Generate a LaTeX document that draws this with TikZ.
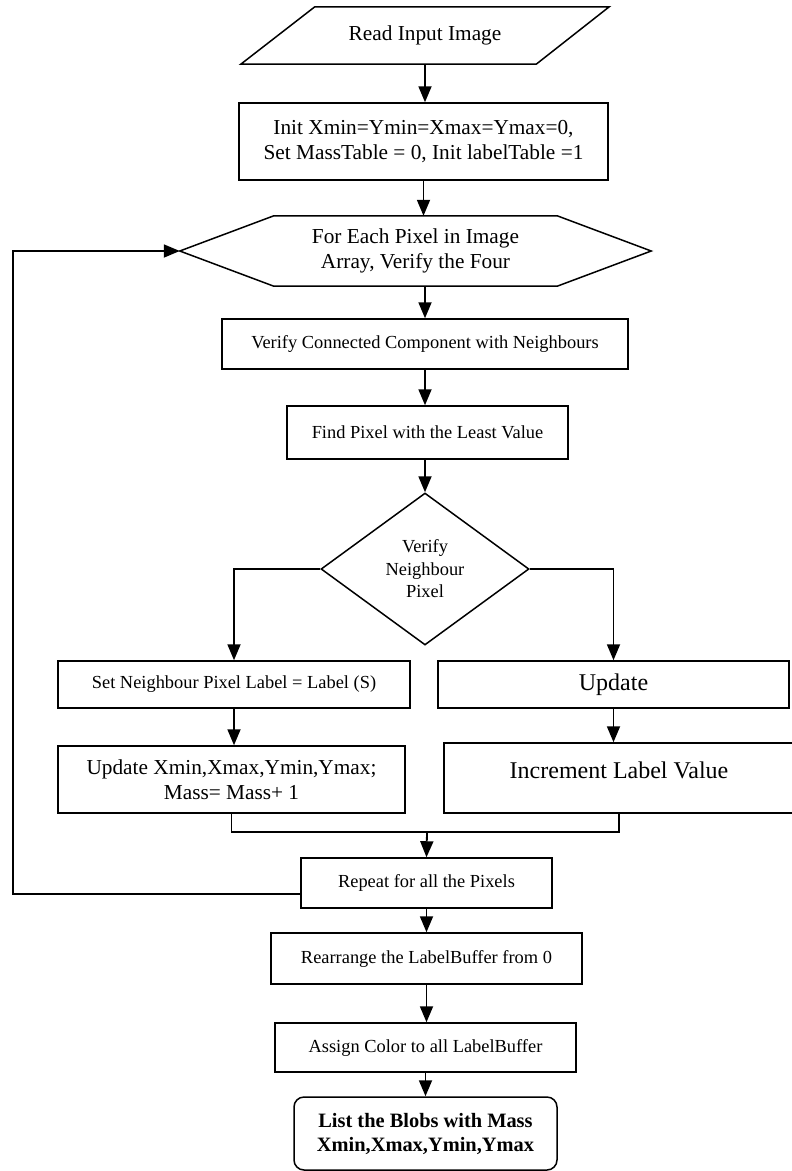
\documentclass[tikz,border=0pt]{standalone}
\usepackage{fontspec}
\setmainfont{Liberation Serif}
\usepackage{tikz}
\usetikzlibrary{positioning,calc,shapes.geometric,arrows.meta}

\begin{document}
\begin{tikzpicture}[
    x=1pt, y=-1pt,
    box/.style={rectangle, draw, line width=1.5pt, align=center, inner sep=0pt},
    arrow/.style={-{Triangle[length=16pt, width=13pt]}, line width=1.8pt},
    txtm/.style={font=\fontsize{21.3}{25}\selectfont},
    txts/.style={font=\fontsize{18.4}{22.5}\selectfont},
    txtl/.style={font=\fontsize{24}{28}\selectfont},
]
\useasboundingbox (0,0) rectangle (792,1171);

\node[txtm, align=center, inner sep=0pt, minimum width=368pt, minimum height=57pt] (read) at (425,35.5) {Read Input Image};
\draw[line width=1.5pt] ($(read.north west)+(74,0)$) -- (read.north east) -- ($(read.south east)+(-73,0)$) -- (read.south west) -- cycle;

\node[box, txtm, minimum width=369pt, minimum height=77pt] (init) at (423.5,141.5) {Init Xmin=Ymin=Xmax=Ymax=0,\\ Set MassTable = 0, Init labelTable =1};

\node[txtm, align=center, inner sep=0pt, minimum width=471pt, minimum height=70pt] (each) at (415.5,251) {For Each Pixel in Image\\ Array, Verify the Four};
\draw[line width=1.5pt] (each.west) -- ($(each.north west)+(94,0)$) -- ($(each.north east)+(-94,0)$) -- (each.east) -- ($(each.south east)+(-94,0)$) -- ($(each.south west)+(94,0)$) -- cycle;

\node[box, txts, minimum width=406pt, minimum height=50pt] (verc) at (425,344) {Verify Connected Component with Neighbours};
\node[box, txts, minimum width=281pt, minimum height=53pt] (find) at (427.5,432.5) {Find Pixel with the Least Value};
\node[diamond, draw, line width=1.5pt, txts, align=center, inner sep=0pt, minimum width=208pt, minimum height=152pt] (dia) at (425,569) {Verify\\ Neighbour\\ Pixel};

\node[box, txts, minimum width=352pt, minimum height=47pt] (setn) at (234,684.5) {Set Neighbour Pixel Label = Label (S)};
\node[box, txtl, minimum width=351pt, minimum height=47pt] (upd) at (613.5,684.5) {Update};
\node[box, txtm, minimum width=347pt, minimum height=67pt] (updx) at (231.5,779.5) {Update Xmin,Xmax,Ymin,Ymax;\\ Mass= Mass+ 1};
\node[box, txtl, text height=9pt, text depth=9pt, minimum width=350pt, minimum height=70pt] (incr) at (619,778) {Increment Label Value};

\node[box, txts, minimum width=251pt, minimum height=50pt] (rep) at (426.5,883) {Repeat for all the Pixels};
\node[box, txts, minimum width=311pt, minimum height=51pt] (rearr) at (426.5,958.5) {Rearrange the LabelBuffer from 0};
\node[box, txts, minimum width=301pt, minimum height=49pt] (assign) at (425.5,1047.5) {Assign Color to all LabelBuffer};
\node[box, rounded corners=10pt, font=\fontsize{20.4}{24}\selectfont\bfseries, minimum width=263pt, minimum height=73pt] (blobs) at (425.5,1133.5) {List the Blobs with Mass\\ Xmin,Xmax,Ymin,Ymax};

\coordinate (join) at (427,832);
\coordinate (back) at (13,894);

\draw[arrow] (read.south) -- (read.south |- init.north);
\draw[arrow] (init.south) -- (init.south |- each.north);
\draw[arrow] (verc.north |- each.south) -- (verc.north);
\draw[arrow] (verc.south) -- (verc.south |- find.north);
\draw[arrow] (dia.north |- find.south) -- (dia.north);
\draw[arrow] (dia.west) -| (setn.north);
\draw[arrow] (dia.east) -| (upd.north);
\draw[arrow] (setn.south) -- (setn.south |- updx.north);
\draw[arrow] (upd.south) -- (upd.south |- incr.north);
\draw[line width=1.5pt] (updx.south) |- (join) -| (incr.south);
\draw[arrow] (join) -- (rep.north);
\draw[arrow] (rep.west |- back) -- (back) |- (each.west);
\draw[arrow] (rep.south) -- (rep.south |- rearr.north);
\draw[arrow] (rearr.south) -- (rearr.south |- assign.north);
\draw[arrow] (assign.south) -- (assign.south |- blobs.north);

\end{tikzpicture}
\end{document}
